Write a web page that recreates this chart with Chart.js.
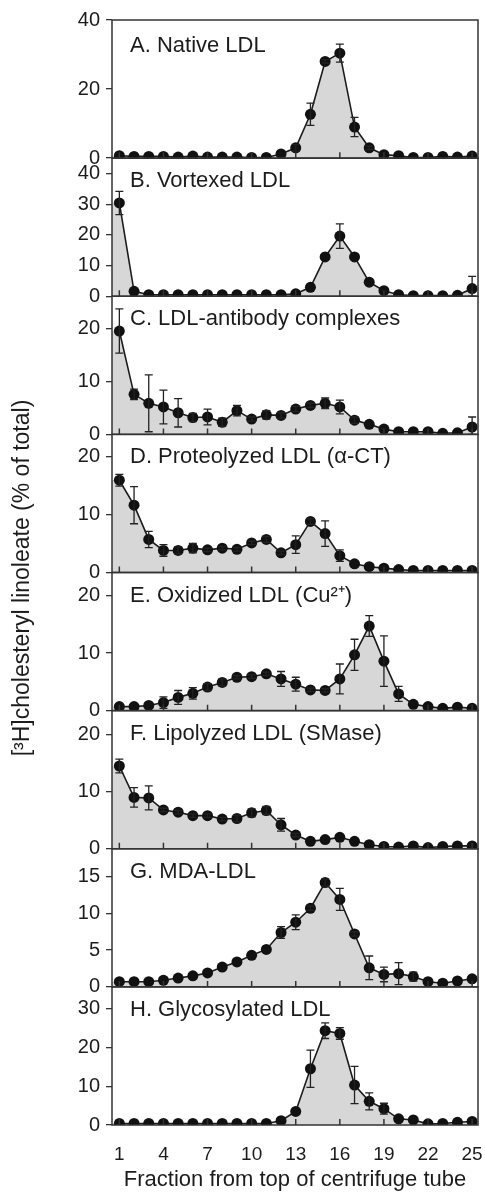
<!doctype html>
<html lang="en">
<head>
  <meta charset="utf-8">
  <title>Fraction profiles</title>
  <script src="https://cdn.jsdelivr.net/npm/chart.js@4.4.0/dist/chart.umd.min.js"></script>
  <style>
    html, body { margin: 0; padding: 0; background: #fff; }
  </style>
</head>
<body>
  <canvas id="myChart" width="485" height="1193"></canvas>
  <script>
    // fractions along the tube
    const fractions = [1, 2, 3, 4, 5, 6, 7, 8, 9, 10, 11, 12, 13, 14, 15, 16, 17, 18, 19, 20, 21, 22, 23, 24, 25];
    const xTicks = [1, 4, 7, 10, 13, 16, 19, 22, 25];

    const panelLabels = [
      'A. Native LDL',
      'B. Vortexed LDL',
      'C. LDL-antibody complexes',
      'D. Proteolyzed LDL (\u03b1-CT)',
      'E. Oxidized LDL (Cu\u00b2\u207a)',
      'F. Lipolyzed LDL (SMase)',
      'G. MDA-LDL',
      'H. Glycosylated LDL'
    ];

    const nativeLDL = [0.7, 0.5, 0.5, 0.5, 0.3, 0.6, 0.3, 0.3, 0.3, 0.2, 0.2, 1.2, 3.0, 12.7, 28.0, 30.4, 9.0, 3.0, 1.0, 0.7, 0.2, 0.2, 0.5, 0.3, 0.6];
    const nativeErr = [0, 0, 0, 0, 0, 0, 0, 0, 0, 0, 0, 0, 1.0, 3.2, 0.5, 2.6, 2.8, 0.5, 0, 0, 0, 0, 0, 0, 0];

    const vortexedLDL = [30.4, 1.6, 0.5, 0.5, 0.5, 0.5, 0.5, 0.5, 0.5, 0.5, 0.5, 0.5, 0.8, 2.9, 12.8, 19.6, 12.8, 4.6, 1.8, 0.5, 0.2, 0.2, 0.2, 0.3, 2.5];
    const vortexedErr = [3.8, 0, 0, 0, 0, 0, 0, 0, 0, 0, 0, 0, 0, 0, 0, 4.0, 0, 0, 0, 0, 0, 0, 0, 0, 4.0];

    const antibodyLDL = [19.6, 7.6, 5.9, 5.2, 4.1, 3.2, 3.3, 2.3, 4.5, 2.9, 3.7, 3.6, 4.8, 5.5, 5.9, 5.2, 2.7, 1.9, 1.0, 0.5, 0.5, 0.5, 0.2, 0.3, 1.4];
    const antibodyErr = [4.2, 1.0, 5.4, 3.2, 2.7, 0.8, 1.5, 0.8, 1.0, 0.4, 0.8, 0.5, 0.5, 0.4, 1.0, 1.3, 0.6, 0, 0, 0, 0, 0, 0, 0, 1.9];

    const proteolyzedLDL = [15.9, 11.6, 5.7, 3.8, 3.8, 4.2, 3.9, 4.2, 4.0, 5.1, 5.7, 3.4, 4.8, 8.8, 6.7, 2.9, 1.5, 1.0, 0.75, 0.5, 0.35, 0.35, 0.35, 0.35, 0.35];
    const proteolyzedErr = [1.0, 3.2, 1.4, 1.0, 0.6, 0.8, 0.3, 0.3, 0.3, 0.3, 0.5, 0.3, 1.5, 0.5, 2.2, 1.0, 0, 0, 0, 0, 0, 0, 0, 0, 0];

    const oxidizedLDL = [0.7, 0.7, 0.9, 1.4, 2.3, 3.0, 4.1, 4.9, 5.8, 5.9, 6.4, 5.5, 4.6, 3.6, 3.5, 5.5, 9.7, 14.7, 8.6, 2.9, 1.1, 0.7, 0.4, 0.6, 0.4];
    const oxidizedErr = [0, 0, 0, 1.0, 1.2, 1.0, 0.6, 0.6, 0.3, 0.3, 0.3, 1.3, 1.2, 0.3, 0.3, 2.6, 2.7, 1.8, 4.4, 1.3, 0, 0, 0, 0, 0];

    const lipolyzedLDL = [14.5, 9.0, 8.9, 6.8, 6.4, 5.8, 5.8, 5.2, 5.3, 6.3, 6.7, 4.2, 2.4, 1.3, 1.6, 2.0, 1.3, 0.7, 0.4, 0.3, 0.5, 0.2, 0.4, 0.5, 0.5];
    const lipolyzedErr = [1.2, 1.7, 2.1, 0.3, 0.3, 0.3, 0.3, 0.3, 0.6, 0.7, 0.7, 1.1, 0.3, 0, 0, 0, 0, 0, 0, 0, 0, 0, 0, 0, 0];

    const mdaLDL = [0.7, 0.7, 0.7, 0.9, 1.2, 1.5, 1.9, 2.7, 3.4, 4.3, 5.1, 7.4, 8.8, 10.7, 14.2, 11.9, 7.2, 2.6, 1.7, 1.8, 1.4, 0.7, 0.5, 0.8, 1.1];
    const mdaErr = [0, 0, 0, 0, 0, 0, 0, 0, 0, 0, 0, 0.8, 1.0, 0.3, 0.5, 1.5, 0.3, 1.6, 1.0, 1.5, 0.6, 0, 0, 0, 0];

    const glycosylatedLDL = [0.4, 0.4, 0.4, 0.4, 0.4, 0.4, 0.4, 0.4, 0.4, 0.4, 0.4, 1.1, 3.5, 14.5, 24.3, 23.6, 10.3, 6.1, 4.2, 1.6, 1.3, 0.3, 0.4, 0.7, 0.9];
    const glycosylatedErr = [0, 0, 0, 0, 0, 0, 0, 0, 0, 0, 0, 0, 0, 4.8, 2.0, 1.5, 4.8, 2.2, 1.4, 0, 0, 0, 0, 0, 0];

    // y tick labels and upper limits, panel by panel
    const yTicks = [
      [0, 20, 40],
      [0, 10, 20, 30, 40],
      [0, 10, 20],
      [0, 10, 20],
      [0, 10, 20],
      [0, 10, 20],
      [0, 5, 10, 15],
      [0, 10, 20, 30]
    ];
    const yMax = [40, 45, 26.2, 23.8, 24, 24.2, 18.8, 35.6];

    const panelValues = [nativeLDL, vortexedLDL, antibodyLDL, proteolyzedLDL, oxidizedLDL, lipolyzedLDL, mdaLDL, glycosylatedLDL];
    const panelErrors = [nativeErr, vortexedErr, antibodyErr, proteolyzedErr, oxidizedErr, lipolyzedErr, mdaErr, glycosylatedErr];
    const panelIds = ['yA', 'yB', 'yC', 'yD', 'yE', 'yF', 'yG', 'yH'];

    const FONT = "'Liberation Sans', Arial, sans-serif";
    const INK = '#1c1c1c';
    const SHADE = '#d7d7d7';

    const datasets = panelValues.map((vals, i) => ({
      label: panelLabels[i],
      data: fractions.map((f, j) => ({ x: f, y: vals[j] })),
      yAxisID: panelIds[i],
      borderColor: INK,
      borderWidth: 1.6,
      backgroundColor: SHADE,
      fill: 'origin',
      tension: 0,
      pointRadius: 5.5,
      pointBackgroundColor: '#111',
      pointBorderWidth: 0
    }));

    const scales = {
      x: {
        type: 'linear',
        min: 0.5,
        max: 25.4,
        grid: { display: false },
        border: { display: false },
        afterBuildTicks: s => { s.ticks = xTicks.map(v => ({ value: v })); },
        afterFit: s => { s.height = 68; s.paddingLeft = 0; s.paddingRight = 0; },
        ticks: { font: { family: FONT, size: 19 }, color: INK, padding: 10, autoSkip: false, maxRotation: 0 },
        title: {
          display: true,
          text: 'Fraction from top of centrifuge tube',
          font: { family: FONT, size: 22 },
          color: INK,
          padding: { top: 0, bottom: 0 }
        }
      }
    };
    panelIds.forEach((id, i) => {
      scales[id] = {
        type: 'linear',
        position: 'left',
        stack: 'panels',
        stackWeight: 1,
        weight: 8 - i,
        min: 0,
        max: yMax[i],
        border: { display: false },
        grid: { drawOnChartArea: false, drawTicks: true, tickLength: 6, color: '#333', lineWidth: 1.3 },
        afterBuildTicks: s => { s.ticks = yTicks[i].map(v => ({ value: v })); },
        afterFit: s => { s.width = 112; },
        ticks: { font: { family: FONT, size: 20 }, color: INK, padding: 6, autoSkip: false }
      };
    });

    // shading between the frame and fraction 1, error bars, panel frames,
    // inner x ticks, panel titles, shared y title
    const panelDecor = {
      id: 'panelDecor',
      beforeDatasetsDraw(chart) {
        const ctx = chart.ctx;
        const area = chart.chartArea;
        ctx.save();
        ctx.fillStyle = SHADE;
        panelIds.forEach((id, i) => {
          const s = chart.scales[id];
          const first = chart.getDatasetMeta(i).data[0];
          const yv = s.getPixelForValue(panelValues[i][0]);
          ctx.fillRect(area.left, yv, first.x - area.left + 1.5, s.getPixelForValue(0) - yv);
        });
        ctx.restore();
      },
      afterDatasetsDraw(chart) {
        const ctx = chart.ctx;
        ctx.save();
        ctx.strokeStyle = '#222';
        ctx.lineWidth = 1.3;
        panelIds.forEach((id, i) => {
          const s = chart.scales[id];
          const meta = chart.getDatasetMeta(i);
          meta.data.forEach((pt, j) => {
            const e = panelErrors[i][j];
            if (!e) return;
            const v = panelValues[i][j];
            const yt = s.getPixelForValue(v + e);
            const yb = s.getPixelForValue(Math.max(v - e, 0));
            ctx.beginPath();
            ctx.moveTo(pt.x, yt); ctx.lineTo(pt.x, yb);
            ctx.moveTo(pt.x - 4, yt); ctx.lineTo(pt.x + 4, yt);
            ctx.moveTo(pt.x - 4, yb); ctx.lineTo(pt.x + 4, yb);
            ctx.stroke();
          });
        });
        ctx.restore();
      },
      afterDraw(chart) {
        const ctx = chart.ctx;
        const area = chart.chartArea;
        const xs = chart.scales.x;
        ctx.save();
        ctx.strokeStyle = '#333';
        ctx.lineWidth = 1.5;
        panelIds.forEach((id, i) => {
          const s = chart.scales[id];
          ctx.strokeRect(area.left, s.top, area.right - area.left, s.bottom - s.top);
          ctx.beginPath();
          xTicks.forEach(v => {
            const px = xs.getPixelForValue(v);
            ctx.moveTo(px, s.bottom);
            ctx.lineTo(px, s.bottom - 6);
          });
          ctx.stroke();
          ctx.fillStyle = INK;
          ctx.font = '22px ' + FONT;
          ctx.textAlign = 'left';
          ctx.textBaseline = 'alphabetic';
          ctx.fillText(panelLabels[i], area.left + 18, s.top + (i === 0 ? 32 : 29));
        });
        ctx.translate(23, 578);
        ctx.rotate(-Math.PI / 2);
        ctx.textAlign = 'center';
        ctx.textBaseline = 'middle';
        ctx.font = '23px ' + FONT;
        ctx.fillText('[\u00b3H]cholesteryl linoleate (% of total)', 0, 0);
        ctx.restore();
      }
    };

    const myChart = new Chart(document.getElementById('myChart').getContext('2d'), {
      type: 'line',
      data: { datasets: datasets },
      options: {
        responsive: false,
        animation: false,
        devicePixelRatio: 1,
        layout: { padding: { left: 0, top: 20, right: 7, bottom: 0 } },
        plugins: { legend: { display: false }, tooltip: { enabled: false } },
        scales: scales
      },
      plugins: [panelDecor]
    });
  </script>
</body>
</html>
